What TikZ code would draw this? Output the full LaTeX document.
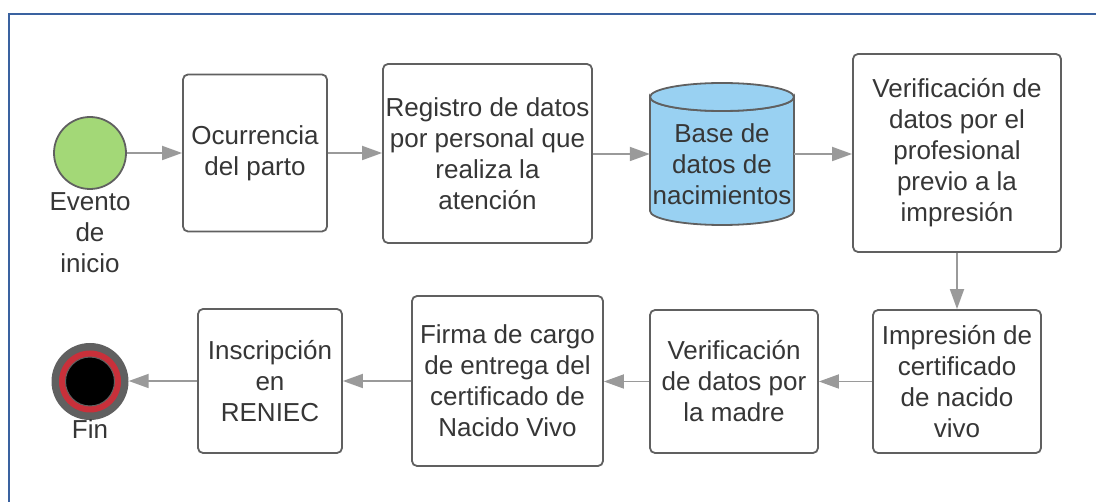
\documentclass[tikz,border=0pt]{standalone}
\usepackage{fontspec}
\setmainfont{Liberation Sans}
\usetikzlibrary{arrows.meta,shapes.geometric}
\definecolor{bordergray}{HTML}{606060}
\definecolor{arrowgray}{HTML}{9A9A9A}
\definecolor{textgray}{HTML}{363636}
\definecolor{startgreen}{HTML}{A3D877}
\definecolor{dbblue}{HTML}{99D1F2}
\definecolor{endred}{HTML}{C8303A}
\definecolor{framblue}{HTML}{3A62A0}
\begin{document}
\begin{tikzpicture}[x=1pt,y=-1pt,
  txt/.style={align=center, inner sep=0pt, text=textgray, font=\fontsize{26}{31}\selectfont},
  procbox/.style={txt, draw=bordergray, line width=1.8pt, rounded corners=5pt, fill=white},
  arr/.style={draw=arrowgray, line width=1.8pt, -{Triangle[length=20pt,width=14pt]}}]
\useasboundingbox (0,0) rectangle (1096,502);
% frame
\draw[framblue, line width=1.8pt] (9,502) -- (9,14) -- (1096,14);
% start event
\node[circle, draw=bordergray, line width=1.8pt, fill=startgreen, minimum size=72pt, inner sep=0pt] (start) at (90,153) {};
\node[txt] (startlbl) at (90,233) {Evento\\de\\inicio};
% top row
\node[procbox, minimum width=144pt, minimum height=157pt] (ocur) at (255,153) {Ocurrencia\\del parto};
\node[procbox, minimum width=209pt, minimum height=179pt] (reg) at (487.5,153.5) {Registro de datos\\por personal que\\realiza la\\atención};
% database cylinder
\draw[bordergray, line width=1.8pt, fill=dbblue] (650,97) -- (650,211) arc[start angle=180, end angle=360, x radius=72, y radius=-14] -- (794,97) arc[start angle=0, end angle=180, x radius=72, y radius=14] -- cycle;
\draw[bordergray, line width=1.8pt, fill=dbblue] (722,97) ellipse[x radius=72, y radius=14];
\node[txt, minimum width=144pt, minimum height=142pt] (db) at (722,154) {};
\node[txt] (dblbl) at (722,164) {Base de\\datos de\\nacimientos};
\node[procbox, minimum width=208pt, minimum height=198pt] (verprof) at (957,153) {Verificación de\\datos por el\\profesional\\previo a la\\impresión};
% bottom row
\node[procbox, minimum width=168pt, minimum height=143pt] (impr) at (957,381.5) {Impresión de\\certificado\\de nacido\\vivo};
\node[procbox, minimum width=168pt, minimum height=143pt] (madre) at (734,381.5) {Verificación\\de datos por\\la madre};
\node[procbox, minimum width=191pt, minimum height=170pt] (firma) at (507.5,381) {Firma de cargo\\de entrega del\\certificado de\\Nacido Vivo};
\node[procbox, minimum width=144pt, minimum height=144pt] (inscr) at (270,381) {Inscripción\\en\\RENIEC};
% end event
\node[circle, fill=bordergray, minimum size=77pt, inner sep=0pt] (fin) at (90,381.5) {};
\node[circle, fill=endred, minimum size=62pt, inner sep=0pt] (finred) at (fin.center) {};
\node[circle, fill=black, draw=bordergray, line width=1pt, minimum size=49pt, inner sep=0pt] (finin) at (fin.center) {};
\node[txt, anchor=base] (finlbl) at (90,439) {Fin};
% connectors
\draw[arr] (start.east) -- (ocur.west |- start.east);
\draw[arr] (ocur.east) -- (reg.west |- ocur.east);
\draw[arr] (reg.east |- db.west) -- (db.west);
\draw[arr] (db.east) -- (verprof.west |- db.east);
\draw[arr] (verprof.south) -- (impr.north);
\draw[arr] (impr.west) -- (madre.east);
\draw[arr] (madre.west) -- (firma.east |- madre.west);
\draw[arr] (firma.west |- inscr.east) -- (inscr.east);
\draw[arr] (inscr.west) -- (fin.east |- inscr.west);
\end{tikzpicture}
\end{document}
